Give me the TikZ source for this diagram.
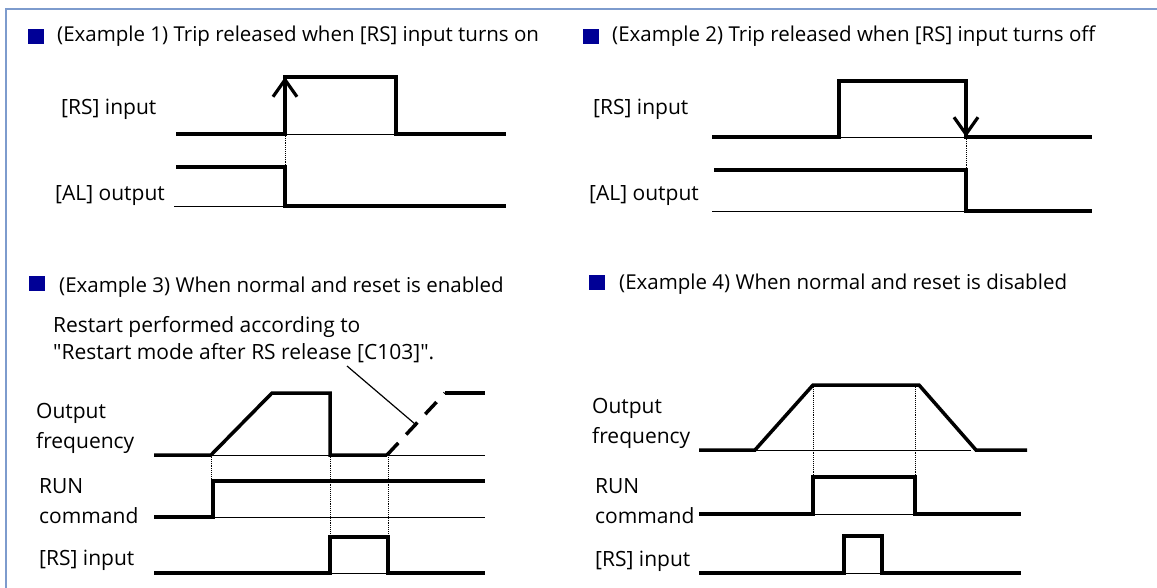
\documentclass[tikz,border=0pt]{standalone}
\usepackage{fontspec}
\usepackage{tikz}
\usepackage{xcolor}
\usetikzlibrary{arrows.meta,calc,positioning}
\newfontfamily\labfont{Open Sans}
\definecolor{bulletblue}{RGB}{0,0,150}
\definecolor{framebl}{RGB}{125,155,205}

\begin{document}
\begin{tikzpicture}[x=1pt,y=-1pt,
wave/.style={line width=3.5pt,line join=miter},
base/.style={line width=0.9pt},
guide/.style={line width=0.9pt,densely dotted},
dsh/.style={line width=3.5pt,dash pattern=on 16.5pt off 11.5pt},
lab/.style={anchor=base west,inner sep=0pt,align=left,font=\labfont\fontsize{21}{30}\selectfont},
ttl/.style={lab,font=\labfont\fontsize{20.5}{30}\selectfont},
bullet/.style={anchor=north west,fill=bulletblue,minimum width=16pt,minimum height=15pt,inner sep=0pt},
tip/.style={-{Straight Barb[length=17pt,width=24pt,line width=3.2pt]}},
frame/.style={draw=framebl,line width=2pt}]
\useasboundingbox (0,0) rectangle (1157,588);
\draw[frame] (5.5,588) -- (5.5,9.5) -- (1157,9.5);
% titles
\node[bullet] (b1) at (28,29) {};
\node[ttl] (t1) at (57,42) {(Example 1) Trip released when [RS] input turns on};
\node[bullet] (b2) at (583,29) {};
\node[ttl] (t2) at (612,42) {(Example 2) Trip released when [RS] input turns off};
\node[bullet] (b3) at (29,276) {};
\node[ttl] (t3) at (59,292) {(Example 3) When normal and reset is enabled};
\node[bullet] (b4) at (589,275) {};
\node[ttl] (t4) at (619,290) {(Example 4) When normal and reset is disabled};
% example 1
\node[lab] (rs1) at (61,115) {[RS] input};
\node[lab] (al1) at (55,201) {[AL] output};
\draw[wave] (176,134) -- (285,134) -- (285,77) -- (396,77) -- (396,134) -- (506,134);
\draw[base] (285,134) -- (396,134);
\draw[wave,tip] (285,134) -- (285,77);
\draw[guide] (285,134) -- (285,167);
\draw[wave] (176,167) -- (285,167) -- (285,206) -- (506,206);
\draw[base] (174,206) -- (285,206);
% example 2
\node[lab] (rs2) at (593,115) {[RS] input};
\node[lab] (al2) at (589,201) {[AL] output};
\draw[wave] (712,137) -- (839,137) -- (839,81) -- (966,81) -- (966,137) -- (1092,137);
\draw[base] (839,137) -- (966,137);
\draw[wave,tip] (966,81) -- (966,137);
\draw[guide] (966,137) -- (966,170);
\draw[wave] (714,170) -- (966,170) -- (966,211) -- (1092,211);
\draw[base] (712,211) -- (966,211);
% example 3
\node[lab] (note3a) at (53,332) {Restart performed according to};
\node[lab] (note3b) at (53,359) {"Restart mode after RS release [C103]".};
\node[lab] (of3) at (36,448) {Output\\frequency};
\node[lab] (run3) at (39,523) {RUN\\command};
\node[lab] (rs3) at (39,565) {[RS] input};
\draw[wave] (154,455) -- (211,455) -- (272,393) -- (330,393) -- (330,455) -- (387,455);
\draw[dsh] (387,455) -- (445,393);
\draw[wave] (445,393) -- (485,393);
\draw[base] (211,455) -- (485,455);
\draw[wave] (154,517) -- (213,517) -- (213,481) -- (485,481);
\draw[base] (213,517) -- (485,517);
\draw[wave] (154,573) -- (330,573) -- (330,537) -- (388,537) -- (388,573) -- (485,573);
\draw[base] (330,573) -- (388,573);
\draw[guide] (211,455) -- (211,481);
\draw[guide] (330,455) -- (330,537);
\draw[guide] (388,455) -- (388,537);
\coordinate (call3) at (347,366);
\coordinate (ramp3) at (415,424);
\draw[line width=1.2pt] (call3) -- (ramp3);
% example 4
\node[lab] (of4) at (592,443) {Output\\frequency};
\node[lab] (run4) at (595,523) {RUN\\command};
\node[lab] (rs4) at (595,566) {[RS] input};
\draw[wave] (699,450) -- (755,450) -- (813,385) -- (919,385) -- (976,450) -- (1027,450);
\draw[base] (755,450) -- (971,450);
\draw[wave] (699,514) -- (813,514) -- (813,477) -- (915,477) -- (915,514) -- (1021,514);
\draw[base] (813,514) -- (915,514);
\draw[wave] (699,573) -- (844,573) -- (844,536) -- (882,536) -- (882,573) -- (1021,573);
\draw[base] (844,573) -- (882,573);
\draw[guide] (813,385) -- (813,477);
\draw[guide] (915,385) -- (915,477);
\end{tikzpicture}
\end{document}
